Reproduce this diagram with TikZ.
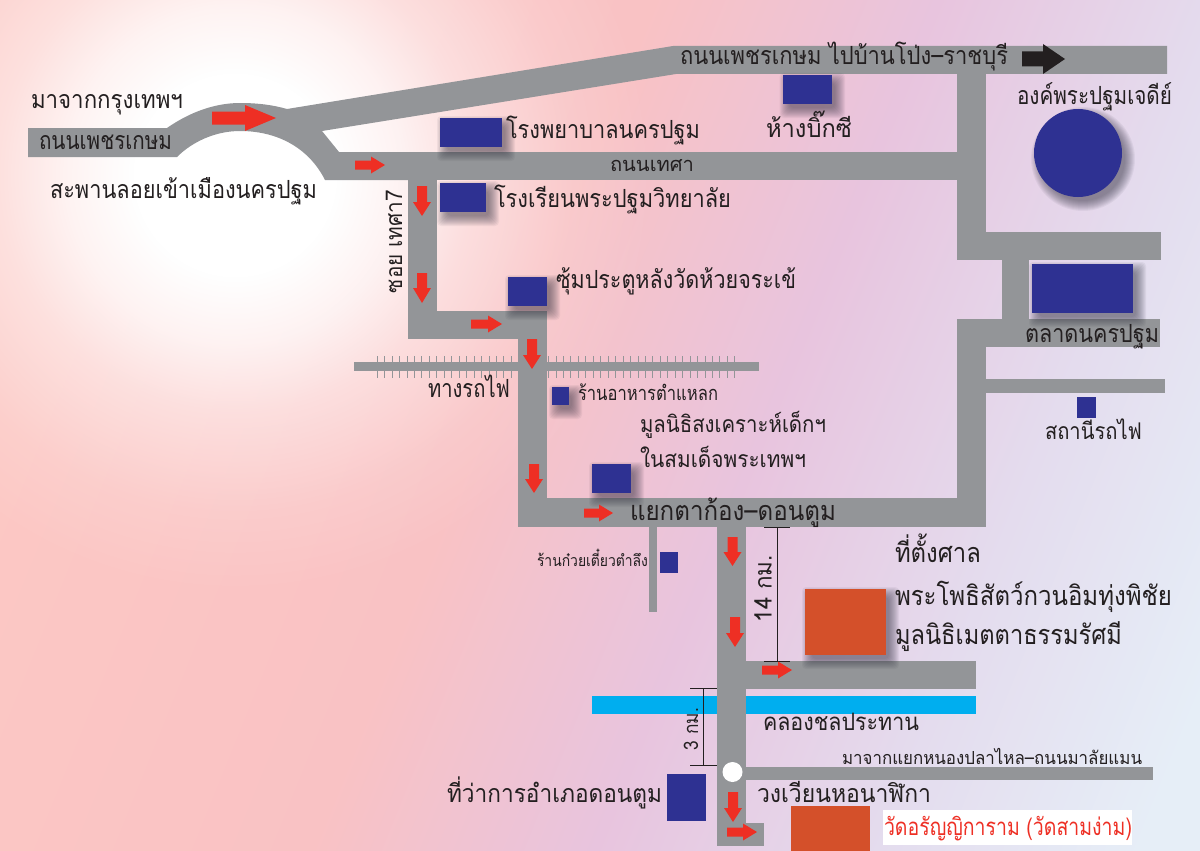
\documentclass[tikz,border=0pt]{standalone}
\usepackage{fontspec}
\usepackage{graphicx}
\usetikzlibrary{fadings}
\newfontfamily\thaifont[Script=Thai]{Loma}
\definecolor{roadgrey}{HTML}{939598}
\definecolor{blockblue}{HTML}{2E3192}
\definecolor{siteorange}{HTML}{D4502A}
\definecolor{arrowred}{HTML}{EE2F24}
\definecolor{inkdark}{HTML}{231F20}
\definecolor{canalblue}{HTML}{00AEEF}
\definecolor{shadowtone}{HTML}{2A2838}
\definecolor{bgA}{HTML}{FCC8C4}
\definecolor{bgB}{HTML}{F9C2C4}
\definecolor{bgC}{HTML}{E8C4DE}
\definecolor{bgD}{HTML}{E4DCEE}
\definecolor{bgE}{HTML}{E6EEF7}
\pgfdeclarehorizontalshading{bgshade}{100bp}{color(0bp)=(bgA); color(25bp)=(bgA); color(45bp)=(bgB); color(57bp)=(bgC); color(69bp)=(bgD); color(80bp)=(bgE); color(100bp)=(bgE)}
\pgfdeclareradialshading{glowshade}{\pgfpointorigin}{color(0bp)=(white); color(6bp)=(white); color(10bp)=(white!78!black); color(14bp)=(white!45!black); color(20bp)=(white!13!black); color(25bp)=(black); color(50bp)=(black)}
\pgfdeclarefading{glowfade}{\pgfuseshading{glowshade}}
\tikzset{
  road/.style={fill=roadgrey,draw=none},
  block/.style={fill=blockblue,draw=none},
  site/.style={fill=siteorange,draw=none},
  lbl/.style={inner sep=0pt,outer sep=0pt,anchor=base west,text=inkdark},
  tie/.style={draw=roadgrey,line width=0.5pt},
  dimline/.style={draw=inkdark,line width=0.8pt},
}
\newcommand\softbox[4]{%
  \foreach \e in {8,7,...,-2}{%
    \fill[shadowtone,opacity=.055,rounded corners=4pt] ({#1+5-\e},{#2+6-\e}) rectangle ({#3+5+\e},{#4+6+\e});}}
\newcommand\softdisc[3]{%
  \foreach \e in {8,7,...,-2}{%
    \fill[shadowtone,opacity=.055] ({#1+5},{#2+6}) circle ({#3+\e});}}
% x1 x2 y shaft-half head-half head-length
\newcommand\rightblock[7][arrowred]{%
  \fill[#1] (#2,{#4-#5}) -- ({#3-#7},{#4-#5}) -- ({#3-#7},{#4-#6}) -- (#3,#4) -- ({#3-#7},{#4+#6}) -- ({#3-#7},{#4+#5}) -- (#2,{#4+#5}) -- cycle;}
% x y1 y2 shaft-half head-half head-length
\newcommand\downblock[6]{%
  \fill[arrowred] ({#1-#4},#2) -- ({#1+#4},#2) -- ({#1+#4},{#3-#6}) -- ({#1+#5},{#3-#6}) -- (#1,#3) -- ({#1-#5},{#3-#6}) -- ({#1-#4},{#3-#6}) -- cycle;}
\newcommand\tx[7][]{\node[lbl,#1] (#2) at (#3,#4) {\resizebox{#5pt}{\height}{\fontsize{#6pt}{#6pt}\thaifont\selectfont #7}};}
\begin{document}
\begin{tikzpicture}[x=1pt,y=-1pt]
\useasboundingbox (0,0) rectangle (1200,851);
% background
\path[shading=bgshade,shading angle=-22] (0,0) rectangle (1200,851);
\fill[white,path fading=glowfade] (235,175) circle (420);
% railway
\fill[road] (354,362) rectangle (759,371);
\foreach \i in {0,...,48}{\draw[tie] ({377+\i*7.45},356) -- ({377+\i*7.45},378);}
% roads
\path[road] (28,128) -- (167,128) .. controls (190,112) and (215,103) .. (240,103)
  .. controls (258,103) and (273,105) .. (287,109) -- (673,46) -- (1167,46) -- (1167,74)
  -- (676,74) -- (322,131) -- (339,152) -- (430,152) -- (430,180)
  -- (325,180) .. controls (310,150) and (280,131) .. (240,131)
  .. controls (215,131) and (192,142) .. (177,157) -- (28,157) -- cycle;
\fill[road] (339,152) rectangle (986,180);
\fill[road] (957,74) rectangle (986,260);
\fill[road] (957,232) rectangle (1161,260);
\fill[road] (1002,260) rectangle (1029,319);
\fill[road] (957,319) rectangle (1160,347);
\fill[road] (957,319) rectangle (986,527);
\fill[road] (986,379) rectangle (1165,393);
\fill[road] (518,498) rectangle (986,527);
\fill[road] (518,311) rectangle (547,527);
\fill[road] (408,311) rectangle (547,339);
\fill[road] (408,180) rectangle (437,339);
\fill[road] (649,527) rectangle (657,612);
% canal
\fill[canalblue] (592,696) rectangle (976,714);
\fill[road] (717,527) rectangle (745.5,846);
\fill[road] (745,661) rectangle (976,689);
\fill[road] (745,767) rectangle (1153,780);
\fill[road] (745,823) rectangle (764,846);
\fill[white] (732.5,772) circle (10);
% soft shadows
\softbox{440}{118}{502}{147}
\softbox{440}{183}{486}{212}
\softbox{782.5}{75}{832}{104}
\softbox{508}{277}{547}{306}
\softbox{552}{387}{569}{405}
\softbox{592}{464}{631}{493}
\softbox{1032}{264}{1133}{313}
\softbox{805}{589}{886}{655}
\softdisc{1078}{153}{44}
% blocks
\fill[block] (440,118) rectangle (502,147);
\fill[block] (440,183) rectangle (486,212);
\fill[block] (782.5,75) rectangle (832,104);
\fill[block] (508,277) rectangle (547,306);
\fill[block] (552,387) rectangle (569,405);
\fill[block] (592,464) rectangle (631,493);
\fill[block] (1032,264) rectangle (1133,313);
\fill[block] (1077,397) rectangle (1096,418);
\fill[block] (660,552) rectangle (678,573);
\fill[block] (667,774) rectangle (706,821);
\fill[block] (1078,153) circle (44);
\fill[site] (805,589) rectangle (886,655);
\fill[site] (791,806) rectangle (870,851);
\fill[white] (883,810) rectangle (1132,845);
% dimension marks
\draw[dimline] (777,527) -- (777,661);
\draw[dimline] (764,527) -- (790,527);
\draw[dimline] (764,661) -- (790,661);
\draw[dimline] (703.5,688) -- (703.5,765);
\draw[dimline] (690,688) -- (717,688);
\draw[dimline] (690,765) -- (717,765);
% arrows
\rightblock{212}{276}{118}{6.5}{13}{31}
\rightblock{355}{385}{165}{4.5}{8.5}{14}
\downblock{422}{186}{216}{5}{9}{14}
\downblock{422}{273}{303}{5}{9}{15}
\rightblock{471}{502}{324}{4.5}{8.5}{14}
\downblock{532}{339}{369}{5}{9}{14}
\downblock{534}{464}{493}{5}{9}{14}
\rightblock{584}{613}{513}{4.5}{8.5}{14}
\downblock{732.5}{537}{566}{5}{9}{14}
\downblock{735}{617}{647}{5}{9}{14}
\rightblock{762}{792}{670}{4.5}{8.5}{14}
\downblock{733}{792}{822}{5}{9}{14}
\rightblock{727}{757}{832}{4.5}{8.5}{14}
\rightblock[inkdark]{1022}{1065}{59}{7.5}{15}{22}
% labels
\tx{fromBkk}{31}{109}{152}{25}{มาจากกรุงเทพฯ}
\tx{petchA}{39}{149}{133}{25}{ถนนเพชรเกษม}
\tx{bridge}{50}{198}{267}{25}{สะพานลอยเข้าเมืองนครปฐม}
\tx{petchB}{680}{65}{328}{25}{ถนนเพชรเกษม ไปบ้านโป่ง–ราชบุรี}
\tx{hosp}{506}{138}{194}{25}{โรงพยาบาลนครปฐม}
\tx{bigc}{766}{138}{86}{25}{ห้างบิ๊กซี}
\tx{thesa}{610}{171}{84}{20}{ถนนเทศา}
\tx{chedi}{1017}{104}{155}{25}{องค์พระปฐมเจดีย์}
\tx{school}{494}{207}{237}{25}{โรงเรียนพระปฐมวิทยาลัย}
\tx[rotate=90]{soi}{402}{293}{103}{23}{ซอย เทศา7}
\tx{chum}{556}{288}{240}{25}{ซุ้มประตูหลังวัดห้วยจระเข้}
\tx{rail}{428}{397}{82}{25}{ทางรถไฟ}
\tx{food}{578}{400}{140}{20}{ร้านอาหารตำแหลก}
\tx{fundA}{640}{432}{186}{23}{มูลนิธิสงเคราะห์เด็กฯ}
\tx{fundB}{640}{467}{166}{23}{ในสมเด็จพระเทพฯ}
\tx{junction}{630}{520}{206}{27}{แยกตาก้อง–ดอนตูม}
\tx{market}{1025}{342}{134}{25}{ตลาดนครปฐม}
\tx{station}{1045}{439}{97}{23}{สถานีรถไฟ}
\tx{noodle}{537}{566}{111}{16}{ร้านก๋วยเตี๋ยวตำลึง}
\tx{shrine}{895}{562}{86}{27}{ที่ตั้งศาล}
\tx{guanyin}{895}{605}{277}{27}{พระโพธิสัตว์กวนอิมทุ่งพิชัย}
\tx{metta}{895}{644}{227}{27}{มูลนิธิเมตตาธรรมรัศมี}
\tx{canal}{763}{730}{156}{24}{คลองชลประทาน}
\tx{nongpla}{842}{764}{300}{18}{มาจากแยกหนองปลาไหล–ถนนมาลัยแมน}
\tx{clock}{757}{802}{174}{25}{วงเวียนหอนาฬิกา}
\tx{district}{447}{802}{215}{25}{ที่ว่าการอำเภอดอนตูม}
\tx[text=arrowred]{wat}{884}{835}{248}{24}{วัดอรัญญิการาม (วัดสามง่าม)}
\tx[rotate=90]{km14}{771.5}{622}{67}{24}{14 กม.}
\tx[rotate=90]{km3}{698}{750}{42}{20}{3 กม.}
\end{tikzpicture}
\end{document}
